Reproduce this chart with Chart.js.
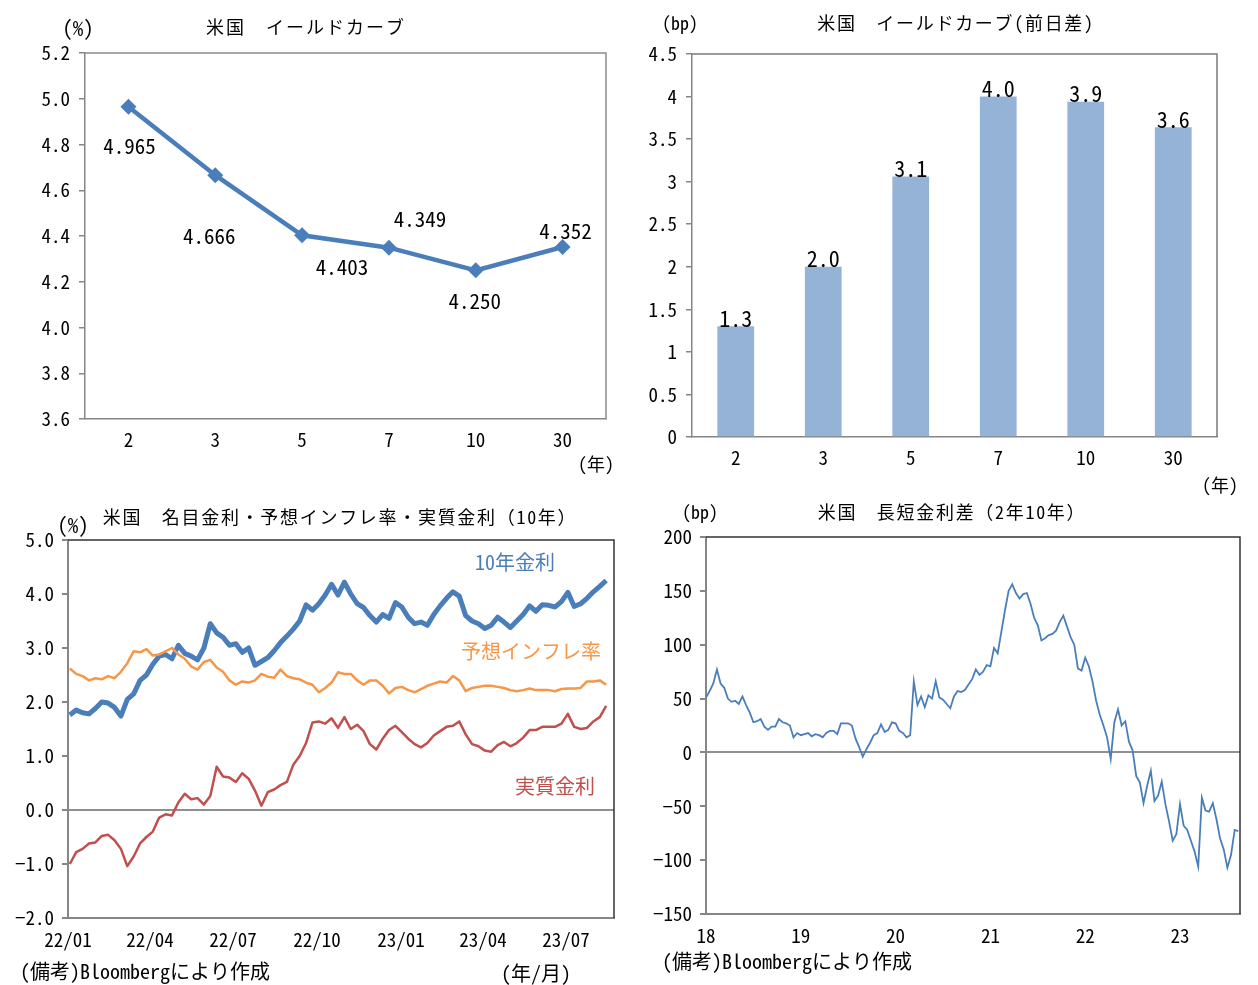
<!DOCTYPE html>
<html>
<head>
<meta charset="utf-8">
<script src="https://cdn.jsdelivr.net/npm/chart.js@4.4.0/dist/chart.umd.min.js"></script>
<style>
  body { margin: 0; background: #fff; width: 1258px; height: 985px; position: relative; overflow: hidden;
         font-family: "Noto Sans Mono CJK JP", "Noto Sans CJK JP", monospace; color: #000; }
  canvas { position: absolute; }
  .t { position: absolute; white-space: nowrap; transform: translate(-50%, -50%); line-height: 1; }
  .l { position: absolute; white-space: nowrap; transform: translateY(-50%); line-height: 1; }
</style>
</head>
<body>
<canvas id="yieldCurve" style="left:0;top:0" width="629" height="480"></canvas>
<canvas id="yieldChange" style="left:629px;top:0" width="629" height="495"></canvas>
<canvas id="realRates" style="left:0;top:495px" width="629" height="490"></canvas>
<canvas id="spreadChart" style="left:629px;top:495px" width="629" height="490"></canvas>

<div class="t" style="left:78px;top:27px;font-size:21px">(%)</div>
<div class="t" style="left:306px;top:26px;font-size:18px;letter-spacing:2px">米国　イールドカーブ</div>
<div class="t" style="left:596px;top:463px;font-size:18px">(年)</div>

<div class="t" style="left:680px;top:22px;font-size:18px">(bp)</div>
<div class="t" style="left:956px;top:22px;font-size:18px;letter-spacing:1.7px">米国　イールドカーブ(前日差)</div>
<div class="t" style="left:1220px;top:484px;font-size:18px">(年)</div>

<div class="t" style="left:340px;top:516px;font-size:18px;letter-spacing:1.7px">米国　名目金利・予想インフレ率・実質金利（10年）</div>
<div class="t" style="left:73px;top:524px;font-size:21px">(%)</div>
<div class="t" style="left:515px;top:562px;font-size:20px;color:#4A7EBB">10年金利</div>
<div class="t" style="left:531px;top:651px;font-size:20px;color:#F79646">予想インフレ率</div>
<div class="t" style="left:555px;top:786px;font-size:20px;color:#C0504D">実質金利</div>
<div class="l" style="left:20px;top:971px;font-size:20px">(備考)Bloombergにより作成</div>
<div class="t" style="left:536px;top:973px;font-size:20px">(年/月)</div>

<div class="t" style="left:700px;top:511px;font-size:18px">(bp)</div>
<div class="t" style="left:952px;top:511px;font-size:18px;letter-spacing:1.7px">米国　長短金利差（2年10年）</div>
<div class="l" style="left:662px;top:961px;font-size:20px">(備考)Bloombergにより作成</div>

<script>
// --- top-left: yield curve (%)
const maturities = ['2', '3', '5', '7', '10', '30'];
const yieldLevels = [4.965, 4.666, 4.403, 4.349, 4.250, 4.352];

// --- top-right: change from previous day (bp)
const yieldChanges = [1.3, 2.0, 3.06, 4.0, 3.94, 3.64];

// --- bottom-left: weekly readings from 2022-01-03 (%)
const nominal10y = [
  1.76, 1.85, 1.80, 1.78, 1.88, 2.00, 1.98, 1.90, 1.74, 2.05,
  2.15, 2.40, 2.50, 2.70, 2.85, 2.88, 2.80, 3.05, 2.90, 2.85,
  2.78, 3.00, 3.45, 3.28, 3.20, 3.05, 3.08, 2.92, 3.00, 2.68,
  2.75, 2.82, 2.95, 3.10, 3.22, 3.35, 3.50, 3.80, 3.70, 3.82,
  3.98, 4.18, 3.98, 4.22, 4.00, 3.82, 3.75, 3.60, 3.48, 3.62,
  3.55, 3.84, 3.76, 3.57, 3.45, 3.48, 3.42, 3.62, 3.78, 3.92,
  4.04, 3.96, 3.60, 3.50, 3.45, 3.36, 3.42, 3.57, 3.48, 3.38,
  3.50, 3.62, 3.78, 3.68, 3.80, 3.79, 3.76, 3.86, 4.03, 3.77,
  3.82, 3.92, 4.04, 4.14, 4.25
];
const breakeven10y = [
  2.62, 2.52, 2.48, 2.40, 2.44, 2.42, 2.48, 2.44, 2.56, 2.72,
  2.94, 2.92, 2.98, 2.86, 2.88, 2.94, 3.00, 2.88, 2.80, 2.66,
  2.60, 2.74, 2.78, 2.64, 2.56, 2.40, 2.32, 2.38, 2.36, 2.40,
  2.52, 2.47, 2.45, 2.60, 2.48, 2.44, 2.42, 2.36, 2.32, 2.18,
  2.26, 2.36, 2.55, 2.52, 2.52, 2.40, 2.32, 2.40, 2.40, 2.30,
  2.16, 2.26, 2.28, 2.22, 2.18, 2.24, 2.30, 2.34, 2.38, 2.36,
  2.48, 2.40, 2.20, 2.26, 2.28, 2.30, 2.30, 2.28, 2.26, 2.22,
  2.20, 2.22, 2.25, 2.22, 2.22, 2.22, 2.20, 2.24, 2.25, 2.25,
  2.26, 2.38, 2.38, 2.40, 2.32
];
const real10y = [
  -1.00, -0.78, -0.72, -0.62, -0.60, -0.48, -0.46, -0.56, -0.72, -1.04,
  -0.86, -0.62, -0.50, -0.40, -0.14, -0.08, -0.10, 0.14, 0.30, 0.20,
  0.22, 0.10, 0.26, 0.80, 0.62, 0.60, 0.52, 0.68, 0.58, 0.36,
  0.08, 0.33, 0.38, 0.46, 0.52, 0.84, 1.00, 1.24, 1.62, 1.64,
  1.60, 1.70, 1.52, 1.72, 1.50, 1.58, 1.46, 1.22, 1.12, 1.32,
  1.48, 1.56, 1.44, 1.32, 1.22, 1.16, 1.24, 1.38, 1.46, 1.54,
  1.56, 1.64, 1.40, 1.22, 1.18, 1.10, 1.08, 1.20, 1.26, 1.18,
  1.24, 1.34, 1.48, 1.48, 1.54, 1.54, 1.54, 1.60, 1.78, 1.54,
  1.50, 1.52, 1.64, 1.72, 1.93
];
const quarterDays = [0, 90, 181, 273, 365, 455, 546];
const quarterLabels = ['22/01', '22/04', '22/07', '22/10', '23/01', '23/04', '23/07'];

// --- bottom-right: 2s10s spread, fortnightly readings from 2018-01 (bp)
const spread2s10s = [
  51, 57, 64, 77, 64, 60, 50, 47, 48, 45,
  52, 44, 37, 28, 29, 31, 24, 21, 24, 24,
  31, 28, 27, 25, 14, 18, 16, 17, 18, 15,
  17, 16, 14, 18, 20, 20, 17, 27, 27, 27,
  25, 13, 5, -4, 3, 9, 16, 18, 26, 19,
  21, 28, 27, 20, 18, 14, 16, 66, 44, 52,
  42, 53, 50, 66, 51, 49, 45, 41, 52, 57,
  56, 58, 63, 68, 77, 72, 75, 81, 80, 97,
  92, 112, 132, 150, 156, 148, 143, 147, 148, 138,
  125, 118, 104, 106, 109, 110, 113, 121, 127, 117,
  107, 100, 78, 76, 88, 80, 66, 48, 35, 25,
  14, -6, 28, 40, 25, 29, 10, 2, -22, -28,
  -47, -31, -17, -45, -40, -27, -48, -64, -82, -76,
  -48, -68, -72, -82, -92, -106, -42, -54, -55, -47,
  -62, -80, -90, -107, -95, -72, -73
];
const yearLabels = ['18', '19', '20', '21', '22', '23'];

const FONT = '"Noto Sans Mono CJK JP", "Noto Sans CJK JP", monospace';
Chart.defaults.font.family = FONT;
Chart.defaults.color = '#000';
Chart.defaults.animation = false;
Chart.defaults.responsive = false;
Chart.defaults.plugins.legend.display = false;
Chart.defaults.plugins.tooltip.enabled = false;

const AXIS_GRAY = '#868686';
const signed = (v, digits) => (v < 0 ? '\u2212' : '') + Math.abs(v).toFixed(digits);

// top and right edges of the plot box
const frame = {
  id: 'frame',
  beforeDatasetsDraw(chart, args, opts) {
    const { ctx, chartArea: a } = chart;
    ctx.save();
    ctx.strokeStyle = opts.color;
    ctx.lineWidth = opts.width;
    ctx.beginPath();
    ctx.moveTo(a.left, a.top);
    ctx.lineTo(a.right, a.top);
    ctx.lineTo(a.right, a.bottom);
    ctx.stroke();
    ctx.restore();
  }
};

const valueLabels = {
  id: 'valueLabels',
  afterDatasetsDraw(chart, args, opts) {
    const ctx = chart.ctx;
    const meta = chart.getDatasetMeta(0);
    const data = chart.data.datasets[0].data;
    ctx.save();
    ctx.font = opts.font;
    ctx.fillStyle = '#000';
    ctx.textAlign = 'center';
    ctx.textBaseline = opts.baseline;
    meta.data.forEach((el, i) => {
      const o = opts.offsets[i];
      ctx.fillText(data[i].toFixed(opts.digits), el.x + o[0], el.y + o[1]);
    });
    ctx.restore();
  }
};

const tickFont = { family: FONT, size: 19 };

new Chart(document.getElementById('yieldCurve'), {
  type: 'line',
  data: {
    labels: maturities,
    datasets: [{
      data: yieldLevels,
      borderColor: '#4A7EBB',
      borderWidth: 4.5,
      tension: 0,
      pointStyle: 'rectRot',
      pointRadius: 8,
      pointBackgroundColor: '#4A7EBB',
      pointBorderColor: '#4A7EBB',
      pointBorderWidth: 0
    }]
  },
  options: {
    layout: { padding: { top: 53, right: 23, left: 0, bottom: 0 } },
    plugins: {
      frame: { color: '#8c8c8c', width: 1.5 },
      valueLabels: {
        font: '21px ' + FONT, digits: 3, baseline: 'middle',
        offsets: [[1, 39], [-6, 61], [40, 32], [31, -29], [-1, 31], [3, -16]]
      }
    },
    scales: {
      x: {
        offset: true,
        grid: { display: false },
        border: { color: AXIS_GRAY, width: 1.5 },
        ticks: { font: tickFont, padding: 1 },
        afterFit(s) { s.height = 61; }
      },
      y: {
        min: 3.6, max: 5.2,
        ticks: { stepSize: 0.2, font: tickFont, padding: 9, callback: v => v.toFixed(1) },
        grid: { drawOnChartArea: false, tickLength: 6, color: AXIS_GRAY, lineWidth: 1.5 },
        border: { color: AXIS_GRAY, width: 1.5 },
        afterFit(s) { s.width = 85; }
      }
    }
  },
  plugins: [frame, valueLabels]
});

new Chart(document.getElementById('yieldChange'), {
  type: 'bar',
  data: {
    labels: maturities,
    datasets: [{
      data: yieldChanges,
      backgroundColor: '#95B3D7',
      barPercentage: 0.42,
      categoryPercentage: 1
    }]
  },
  options: {
    layout: { padding: { top: 54, right: 41, left: 0, bottom: 0 } },
    plugins: {
      frame: { color: '#7a7a7a', width: 1.5 },
      valueLabels: {
        font: '22px ' + FONT, digits: 1, baseline: 'bottom',
        offsets: [[0, 3], [0, 3], [0, 3], [0, 3], [0, 3], [0, 3]]
      }
    },
    scales: {
      x: {
        grid: { display: false },
        border: { color: AXIS_GRAY, width: 1.5 },
        ticks: { font: tickFont, padding: 1 },
        afterFit(s) { s.height = 58; }
      },
      y: {
        min: 0, max: 4.5,
        ticks: { stepSize: 0.5, font: tickFont, padding: 9, callback: v => String(v) },
        grid: { drawOnChartArea: false, tickLength: 6, color: AXIS_GRAY, lineWidth: 1.5 },
        border: { color: AXIS_GRAY, width: 1.5 },
        afterFit(s) { s.width = 63; }
      }
    }
  },
  plugins: [frame, valueLabels]
});

// weekly observation dates as days since 2022-01-01 (first Monday = Jan 3)
const weekDays = nominal10y.map((_, i) => 2 + 7 * i);
const toPoints = (xs, ys) => ys.map((y, i) => ({ x: xs[i], y }));

const zeroLineGrid = {
  drawOnChartArea: true,
  tickLength: 6,
  lineWidth: 2,
  tickColor: AXIS_GRAY,
  color: c => (c.tick && c.tick.value === 0 ? '#8f8f8f' : 'rgba(0,0,0,0)')
};

new Chart(document.getElementById('realRates'), {
  type: 'line',
  data: {
    datasets: [
      { data: toPoints(weekDays, nominal10y), borderColor: '#4A7EBB', borderWidth: 5, order: 3 },
      { data: toPoints(weekDays, breakeven10y), borderColor: '#F79646', borderWidth: 2.5, order: 2 },
      { data: toPoints(weekDays, real10y), borderColor: '#C0504D', borderWidth: 2.5, order: 1 }
    ]
  },
  options: {
    parsing: false,
    elements: { point: { radius: 0 }, line: { tension: 0, borderJoinStyle: 'round' } },
    layout: { padding: { top: 45, right: 15, left: 0, bottom: 0 } },
    plugins: { frame: { color: '#333', width: 1.5 } },
    scales: {
      x: {
        type: 'linear', min: 0, max: 598.6,
        afterBuildTicks(s) { s.ticks = quarterDays.map(v => ({ value: v })); },
        ticks: { font: tickFont, padding: 2, autoSkip: false, maxRotation: 0,
                 callback: (v, i) => quarterLabels[i] },
        grid: { display: false },
        border: { color: AXIS_GRAY, width: 2 },
        afterFit(s) { s.height = 67; }
      },
      y: {
        min: -2, max: 5,
        ticks: { stepSize: 1, font: tickFont, padding: 8, callback: v => signed(v, 1) },
        grid: zeroLineGrid,
        border: { color: AXIS_GRAY, width: 2 },
        afterFit(s) { s.width = 68; }
      }
    }
  },
  plugins: [frame]
});

// fortnightly observations, in years since 2018-01-01
const fortnights = spread2s10s.map((_, i) => i / 26);

new Chart(document.getElementById('spreadChart'), {
  type: 'line',
  data: {
    datasets: [{ data: toPoints(fortnights, spread2s10s), borderColor: '#4A7EBB', borderWidth: 1.8 }]
  },
  options: {
    parsing: false,
    elements: { point: { radius: 0 }, line: { tension: 0 } },
    layout: { padding: { top: 42, right: 18, left: 0, bottom: 0 } },
    plugins: { frame: { color: '#333', width: 1.5 } },
    scales: {
      x: {
        type: 'linear', min: 0, max: 5.633,
        afterBuildTicks(s) { s.ticks = yearLabels.map((_, i) => ({ value: i })); },
        ticks: { font: tickFont, padding: 2, autoSkip: false, maxRotation: 0,
                 callback: (v, i) => yearLabels[i] },
        grid: { display: false },
        border: { color: AXIS_GRAY, width: 2 },
        afterFit(s) { s.height = 71; }
      },
      y: {
        min: -150, max: 200,
        ticks: { stepSize: 50, font: tickFont, padding: 8, callback: v => signed(v, 0) },
        grid: zeroLineGrid,
        border: { color: AXIS_GRAY, width: 2 },
        afterFit(s) { s.width = 77; }
      }
    }
  },
  plugins: [frame]
});
</script>
</body>
</html>
